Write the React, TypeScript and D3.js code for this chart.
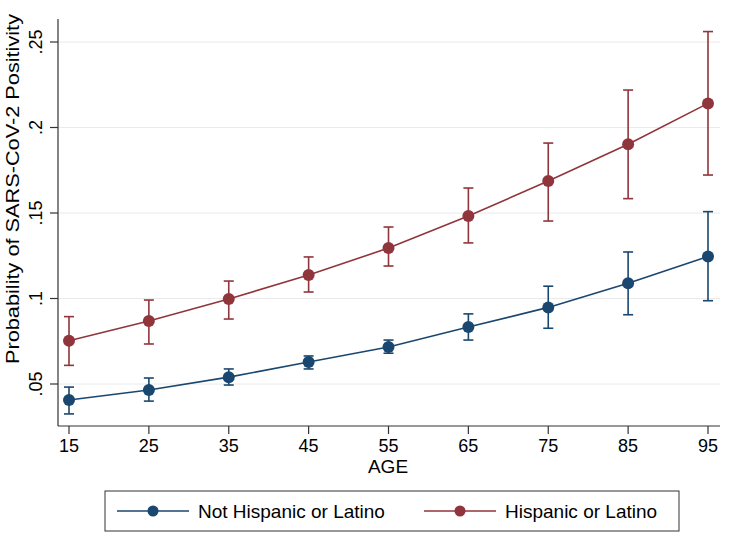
import React from "react";
import * as d3 from "d3";

const ages = [15, 25, 35, 45, 55, 65, 75, 85, 95];
const notHispanic = [0.0406, 0.0465, 0.054, 0.0629, 0.0716, 0.0833, 0.0948, 0.1089, 0.1246];
const notHispanicLo = [0.0325, 0.04, 0.0494, 0.0588, 0.068, 0.0757, 0.0826, 0.0905, 0.0987];
const notHispanicHi = [0.0482, 0.0535, 0.0588, 0.0664, 0.0757, 0.091, 0.1072, 0.1272, 0.1508];
const hispanic = [0.0753, 0.0868, 0.0997, 0.1137, 0.1295, 0.1482, 0.1687, 0.1902, 0.2141];
const hispanicLo = [0.0609, 0.0734, 0.088, 0.1038, 0.119, 0.1325, 0.1453, 0.1584, 0.1722];
const hispanicHi = [0.0894, 0.0991, 0.1102, 0.1243, 0.1418, 0.1646, 0.1909, 0.2219, 0.2561];
const yTicks = [0.05, 0.1, 0.15, 0.2, 0.25];
const yTickLabels = [".05", ".1", ".15", ".2", ".25"];
const seriesNames = ["Not Hispanic or Latino", "Hispanic or Latino"];
const colors = ["#1a476f", "#90353b"];

export default function App() {
  const W = 738, H = 549;
  const left = 58, right = 720, top = 19, bottom = 426;
  const x = d3.scaleLinear().domain([15, 95]).range([69, 708]);
  const y = d3.scaleLinear().domain([0.05, 0.25]).range([384, 42]);
  const font = "'Liberation Sans', Arial, Helvetica, sans-serif";
  const series = [
    { v: notHispanic, lo: notHispanicLo, hi: notHispanicHi },
    { v: hispanic, lo: hispanicLo, hi: hispanicHi },
  ];
  const line = d3.line<number>().x((_, i) => x(ages[i])).y((d) => y(d));
  return (
    <svg width={W} height={H} style={{ position: "absolute", left: 0, top: 0, background: "#fff" }} fontFamily={font}>
      <rect x={0} y={0} width={W} height={H} fill="#fff" />
      {yTicks.map((t) => (
        <line key={"g" + t} x1={left} x2={right} y1={y(t)} y2={y(t)} stroke="#eaeaea" strokeWidth={1} />
      ))}
      {series.map((s, si) => (
        <g key={si}>
          {s.v.map((_, i) => (
            <g key={i} stroke={colors[si]} strokeWidth={1.6}>
              <line x1={x(ages[i])} x2={x(ages[i])} y1={y(s.lo[i])} y2={y(s.hi[i])} />
              <line x1={x(ages[i]) - 5} x2={x(ages[i]) + 5} y1={y(s.lo[i])} y2={y(s.lo[i])} />
              <line x1={x(ages[i]) - 5} x2={x(ages[i]) + 5} y1={y(s.hi[i])} y2={y(s.hi[i])} />
            </g>
          ))}
          <path d={line(s.v) || ""} fill="none" stroke={colors[si]} strokeWidth={1.6} />
          {s.v.map((d, i) => (
            <circle key={"c" + i} cx={x(ages[i])} cy={y(d)} r={6} fill={colors[si]} />
          ))}
        </g>
      ))}
      <line x1={left} x2={left} y1={top} y2={bottom} stroke="#333" strokeWidth={1.2} />
      <line x1={left} x2={right} y1={bottom} y2={bottom} stroke="#333" strokeWidth={1.2} />
      {yTicks.map((t, i) => (
        <g key={"yt" + t}>
          <line x1={left - 8} x2={left} y1={y(t)} y2={y(t)} stroke="#333" strokeWidth={1.2} />
          <text
            transform={`translate(${42},${y(t)}) rotate(-90)`}
            textAnchor="middle"
            fontSize={18}
            fill="#000"
          >
            {yTickLabels[i]}
          </text>
        </g>
      ))}
      {ages.map((a) => (
        <g key={"xt" + a}>
          <line x1={x(a)} x2={x(a)} y1={bottom} y2={bottom + 8} stroke="#333" strokeWidth={1.2} />
          <text x={x(a)} y={bottom + 26} textAnchor="middle" fontSize={18} fill="#000">
            {a}
          </text>
        </g>
      ))}
      <text x={388} y={473} textAnchor="middle" fontSize={19} fill="#000">
        AGE
      </text>
      <text
        transform={`translate(19,189) rotate(-90)`}
        textAnchor="middle"
        fontSize={18.5}
        fill="#000"
        textLength={350}
        lengthAdjust="spacingAndGlyphs"
      >
        Probability of SARS-CoV-2 Positivity
      </text>
      <rect x={105} y={491} width={574} height={40} fill="#fff" stroke="#333" strokeWidth={1} />
      {seriesNames.map((n, i) => {
        const lx = i === 0 ? 117 : 424;
        return (
          <g key={n}>
            <line x1={lx} x2={lx + 72} y1={511} y2={511} stroke={colors[i]} strokeWidth={1.6} />
            <circle cx={lx + 36} cy={511} r={5.5} fill={colors[i]} />
            <text x={lx + 81} y={518} fontSize={19} fill="#000">
              {n}
            </text>
          </g>
        );
      })}
    </svg>
  );
}
